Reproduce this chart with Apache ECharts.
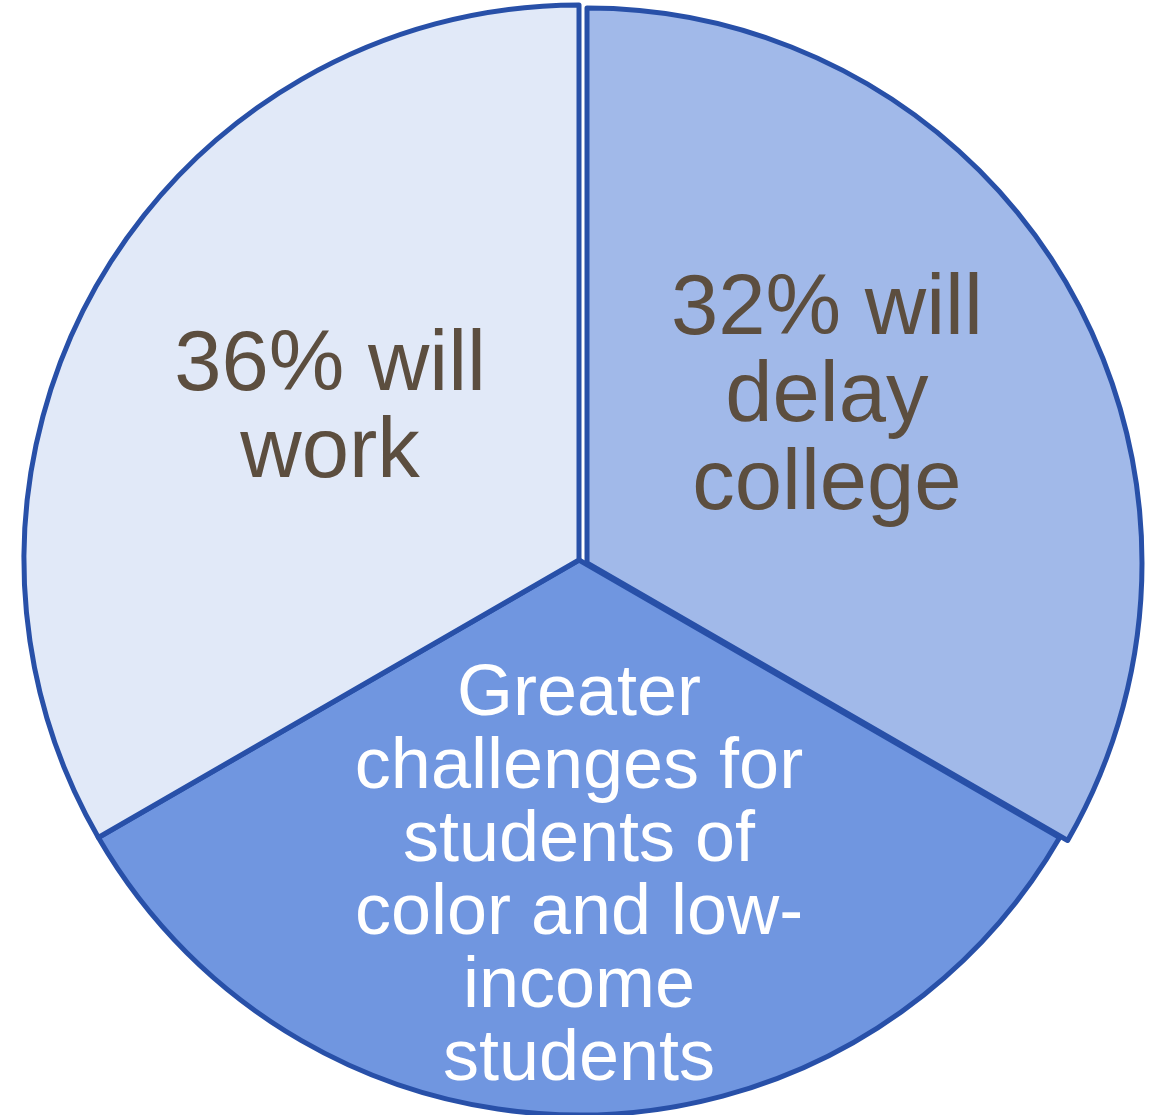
<!DOCTYPE html>
<html>
<head>
<meta charset="utf-8">
<script src="https://cdn.jsdelivr.net/npm/echarts@6/dist/echarts.min.js"></script>
<style>
  html, body { margin: 0; padding: 0; background: #ffffff; }
  #chart { width: 1158px; height: 1115px; }
</style>
</head>
<body>
<div id="chart"></div>
<script>
// Slice labels (clockwise from 12 o'clock)
const categories = [
  '32% will\ndelay\ncollege',
  'Greater\nchallenges for\nstudents of\ncolor and low-\nincome\nstudents',
  '36% will\nwork'
];
// Slices are drawn as equal thirds in the reference
const values = [1, 1, 1];

const fills = ['#A1B9E9', '#7096E0', '#E1E9F8'];
const labelColors = ['#5C4E3F', '#FFFFFF', '#5C4E3F'];
const labelSizes = [85, 72, 85];
const labelLineHeights = [87.5, 73, 87];
const borderColor = '#2850A8';
const borderW = 5;

const chart = echarts.init(document.getElementById('chart'), null, { renderer: 'canvas' });

const hidden = { color: 'rgba(0,0,0,0)', borderWidth: 0 };

function labelStyle(i) {
  return {
    show: true,
    position: 'inside',
    color: labelColors[i],
    fontFamily: 'Liberation Sans, Arial, sans-serif',
    fontSize: labelSizes[i],
    lineHeight: labelLineHeights[i],
    align: 'center',
    formatter: '{b}'
  };
}

// Main pie: bottom and left slices (first slice hidden, drawn by exploded series)
const mainData = categories.map((name, i) => {
  if (i === 0) {
    return { name: name, value: values[i], itemStyle: hidden, label: { show: false } };
  }
  return {
    name: name,
    value: values[i],
    itemStyle: { color: fills[i], borderColor: borderColor, borderWidth: borderW },
    label: labelStyle(i)
  };
});

// Exploded slice: first category, rest of the circle hidden
const explodedData = [
  {
    name: categories[0],
    value: values[0],
    itemStyle: { color: fills[0], borderColor: borderColor, borderWidth: borderW },
    label: labelStyle(0)
  },
  {
    name: '_rest',
    value: values[1] + values[2],
    itemStyle: hidden,
    label: { show: false }
  }
];

const labelShift = {
  main: { 1: [0, 37], 2: [-6, -10] },
  exploded: { 0: [-3, -25] }
};

chart.setOption({
  backgroundColor: '#ffffff',
  animation: false,
  series: [
    {
      type: 'pie',
      name: 'main',
      center: [579, 560],
      radius: [0, 555],
      startAngle: 90,
      clockwise: true,
      silent: true,
      labelLine: { show: false },
      labelLayout: function (p) {
        const s = labelShift.main[p.dataIndex];
        return s ? { dx: s[0], dy: s[1] } : {};
      },
      data: mainData
    },
    {
      type: 'pie',
      name: 'exploded',
      center: [587, 563],
      radius: [0, 555],
      startAngle: 90,
      clockwise: true,
      silent: true,
      labelLine: { show: false },
      labelLayout: function (p) {
        const s = labelShift.exploded[p.dataIndex];
        return s ? { dx: s[0], dy: s[1] } : {};
      },
      data: explodedData
    }
  ]
});
</script>
</body>
</html>
